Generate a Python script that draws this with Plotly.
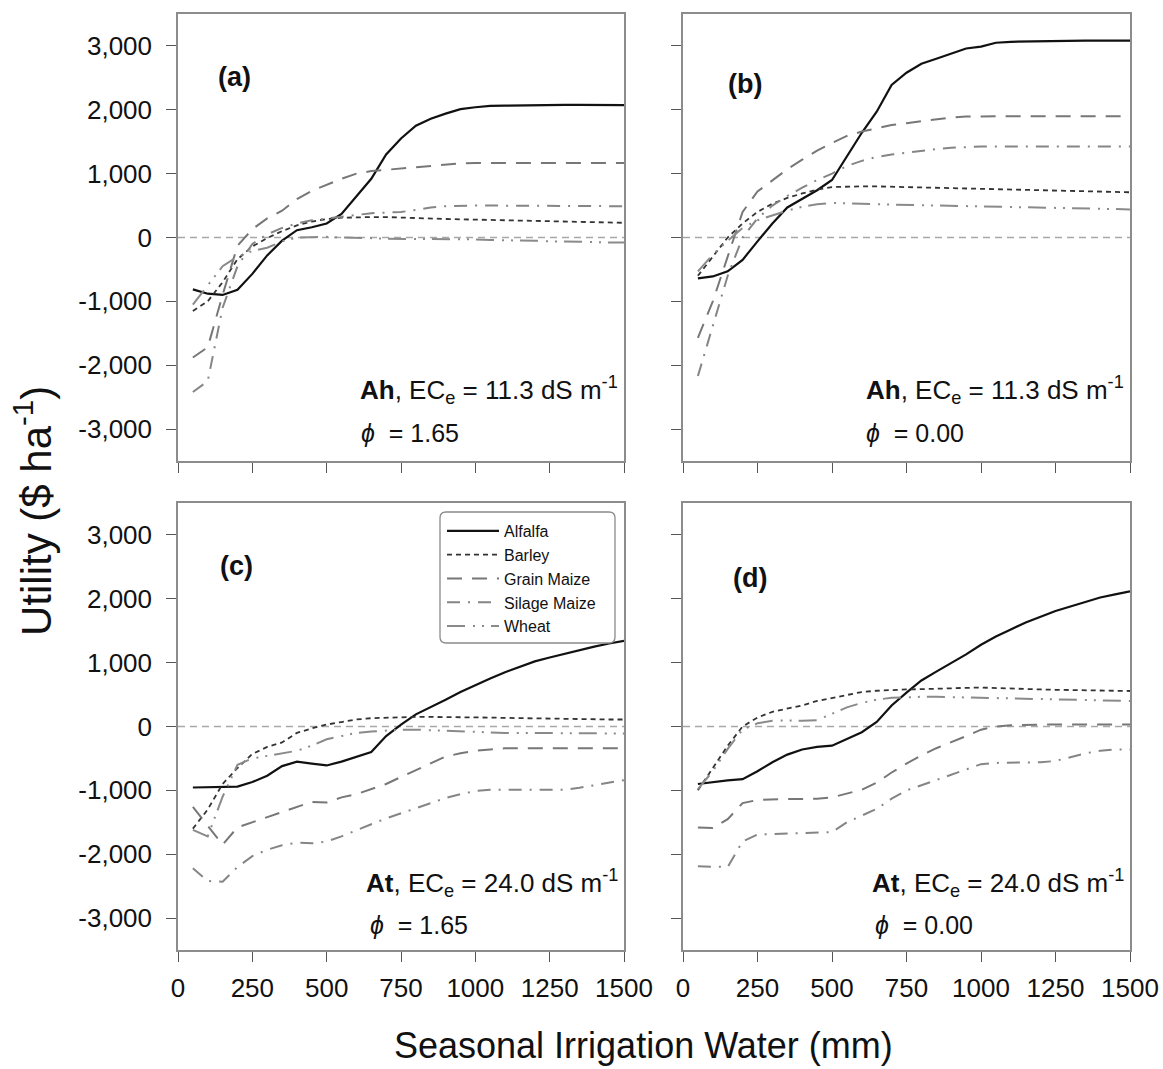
import plotly.graph_objects as go

# ---------------- data ----------------
water = [50, 100, 150, 200, 250, 300, 350, 400, 450, 500, 550, 600, 650, 700, 750,
         800, 850, 900, 950, 1000, 1050, 1100, 1150, 1200, 1250, 1300, 1350, 1400, 1450, 1500]

crops = ["Alfalfa", "Barley", "Grain Maize", "Silage Maize", "Wheat"]

# panel (a): Ah, phi = 1.65
alfalfa_a = [-812, -880, -900, -820, -570, -280, -50, 115, 160, 220, 370, 640, 920, 1300, 1550,
             1750, 1860, 1940, 2010, 2040, 2060, 2065, 2070, 2072, 2075, 2078, 2078, 2075, 2073, 2073]
barley_a = [-1150, -1000, -700, -340, -140, -10, 100, 190, 250, 290, 310, 320, 320, 320, 310,
            300, 295, 290, 285, 280, 275, 270, 265, 260, 255, 250, 245, 240, 235, 230]
grain_a = [-1880, -1720, -900, -130, 130, 300, 420, 600, 730, 830, 920, 1000, 1040, 1060, 1080,
           1100, 1120, 1140, 1160, 1165, 1165, 1165, 1165, 1165, 1165, 1165, 1165, 1165, 1165, 1165]
silage_a = [-2420, -2250, -1100, -450, -100, 50, 150, 220, 270, 300, 320, 350, 380, 390, 400,
            430, 470, 490, 500, 500, 500, 500, 500, 500, 495, 495, 490, 490, 490, 490]
wheat_a = [-1050, -750, -450, -300, -210, -160, -60, 0, 5, 10, 0, 0, -10, -20, -20,
           -20, -20, -20, -30, -30, -40, -40, -50, -50, -60, -60, -70, -70, -80, -80]

# panel (b): Ah, phi = 0.00
alfalfa_b = [-640, -610, -530, -350, -60, 220, 470, 610, 740, 900, 1280, 1640, 1970, 2390, 2580,
             2720, 2800, 2880, 2960, 2990, 3050, 3065, 3070, 3075, 3080, 3083, 3083, 3083, 3083, 3083]
barley_b = [-600, -300, 0, 220, 400, 530, 620, 690, 750, 790, 800, 800, 800, 795, 790,
            780, 775, 770, 765, 760, 750, 745, 740, 735, 730, 725, 720, 715, 710, 708]
grain_b = [-1570, -1000, -300, 400, 720, 900, 1070, 1220, 1360, 1480, 1590, 1660, 1710, 1760, 1790,
           1820, 1850, 1880, 1895, 1900, 1900, 1900, 1900, 1900, 1900, 1900, 1900, 1900, 1900, 1900]
silage_b = [-2170, -1400, -600, 0, 300, 500, 650, 780, 900, 1000, 1120, 1200, 1260, 1300, 1330,
            1360, 1385, 1405, 1420, 1425, 1425, 1425, 1425, 1425, 1425, 1425, 1425, 1425, 1425, 1425]
wheat_b = [-530, -270, -50, 150, 270, 350, 420, 480, 520, 540, 540, 530, 520, 515, 510,
           505, 500, 500, 495, 490, 485, 480, 475, 470, 465, 460, 455, 450, 445, 440]

# panel (c): At, phi = 1.65
alfalfa_c = [-955, -950, -945, -940, -870, -770, -620, -550, -580, -610, -550, -480, -400, -150, 30,
             190, 300, 420, 540, 650, 750, 850, 940, 1020, 1080, 1140, 1190, 1250, 1300, 1340]
barley_c = [-1600, -1300, -900, -650, -430, -320, -250, -100, -30, 30, 70, 110, 130, 140, 140,
            150, 150, 150, 150, 150, 140, 135, 130, 125, 120, 115, 110, 110, 110, 110]
grain_c = [-1260, -1550, -1850, -1580, -1500, -1420, -1340, -1260, -1180, -1190, -1110, -1060, -980, -900, -790,
           -680, -570, -470, -420, -380, -360, -340, -340, -340, -340, -340, -340, -340, -340, -340]
silage_c = [-2220, -2420, -2430, -2200, -2030, -1930, -1860, -1820, -1830, -1800, -1720, -1620, -1530, -1440, -1360,
            -1280, -1190, -1120, -1060, -1010, -990, -990, -990, -990, -990, -990, -960, -920, -880, -840]
wheat_c = [-1620, -1720, -1100, -600, -500, -460, -430, -380, -300, -200, -150, -100, -80, -60, -50,
           -50, -60, -60, -70, -80, -90, -100, -100, -100, -110, -110, -110, -110, -110, -110]

# panel (d): At, phi = 0.00
alfalfa_d = [-900, -870, -845, -825, -700, -560, -440, -360, -320, -300, -200, -90, 70, 330, 530,
             720, 860, 990, 1130, 1280, 1410, 1520, 1630, 1720, 1810, 1880, 1950, 2020, 2070, 2115]
barley_d = [-1000, -640, -300, 0, 140, 230, 280, 330, 400, 450, 500, 540, 560, 575, 580,
            585, 595, 600, 605, 610, 600, 590, 585, 580, 575, 570, 565, 560, 558, 556]
grain_d = [-1580, -1590, -1450, -1200, -1150, -1140, -1135, -1135, -1130, -1110, -1050, -990, -880, -720, -580,
           -450, -340, -250, -150, -50, 0, 20, 30, 30, 30, 30, 30, 30, 30, 30]
silage_d = [-2190, -2195, -2200, -1800, -1690, -1685, -1680, -1675, -1665, -1655, -1500, -1390, -1290, -1130, -1000,
            -920, -840, -760, -680, -590, -570, -570, -570, -560, -540, -480, -420, -380, -360, -360]
wheat_d = [-980, -700, -350, -50, 50, 90, 95, 90, 100, 200, 300, 370, 420, 450, 460,
           465, 465, 460, 455, 445, 435, 430, 425, 420, 415, 410, 405, 402, 400, 400]

panel_labels = ["(a)", "(b)", "(c)", "(d)"]
site_labels = ["Ah", "Ah", "At", "At"]
ece_values = ["11.3", "11.3", "24.0", "24.0"]
phi_values = ["1.65", "0.00", "1.65", "0.00"]

y_tickvals = [-3000, -2000, -1000, 0, 1000, 2000, 3000]
y_ticktext = ["-3,000", "-2,000", "-1,000", "0", "1,000", "2,000", "3,000"]
x_tickvals = [0, 250, 500, 750, 1000, 1250, 1500]
x_ticktext = ["0", "250", "500", "750", "1000", "1250", "1500"]

panels = [
    [alfalfa_a, barley_a, grain_a, silage_a, wheat_a],
    [alfalfa_b, barley_b, grain_b, silage_b, wheat_b],
    [alfalfa_c, barley_c, grain_c, silage_c, wheat_c],
    [alfalfa_d, barley_d, grain_d, silage_d, wheat_d],
]

# ---------------- styles ----------------
styles = [
    dict(color="#111111", width=2.2, dash="solid"),
    dict(color="#333333", width=1.8, dash="5px,4px"),
    dict(color="#777777", width=2.0, dash="15px,10px"),
    dict(color="#858585", width=2.0, dash="13px,8px,2px,8px"),
    dict(color="#8a8a8a", width=2.0, dash="18px,8px,2px,7px,2px,7px"),
]

FONT = "Liberation Sans, Arial, sans-serif"
W, H = 1163, 1069

xdom = [(178 / W, 624 / W), (683 / W, 1130 / W)]
ydom = [(1 - 461 / H, 1 - 14 / H), (1 - 950 / H, 1 - 503 / H)]

# rounded legend frame (paper coordinates)
lx0, lx1, ly0, ly1, rad = 440, 615, 512, 643, 6
def px(v):
    return v / W
def py(v):
    return 1 - v / H
legend_path = (
    f"M {px(lx0 + rad)},{py(ly0)} L {px(lx1 - rad)},{py(ly0)} "
    f"Q {px(lx1)},{py(ly0)} {px(lx1)},{py(ly0 + rad)} "
    f"L {px(lx1)},{py(ly1 - rad)} Q {px(lx1)},{py(ly1)} {px(lx1 - rad)},{py(ly1)} "
    f"L {px(lx0 + rad)},{py(ly1)} Q {px(lx0)},{py(ly1)} {px(lx0)},{py(ly1 - rad)} "
    f"L {px(lx0)},{py(ly0 + rad)} Q {px(lx0)},{py(ly0)} {px(lx0 + rad)},{py(ly0)} Z"
)

fig = go.Figure()
layout = dict(
    width=W, height=H, autosize=False,
    margin=dict(l=0, r=0, t=0, b=0, pad=0, autoexpand=False),
    paper_bgcolor="white", plot_bgcolor="white",
    font=dict(family=FONT, color="#111111"),
    showlegend=True,
    legend=dict(
        x=px(lx0 + 2), y=py(ly0 + 2), xanchor="left", yanchor="top",
        bgcolor="rgba(0,0,0,0)", borderwidth=0,
        font=dict(family=FONT, size=16, color="#111111"),
        tracegroupgap=0, itemwidth=52,
    ),
    shapes=[dict(type="path", xref="paper", yref="paper", path=legend_path,
                 fillcolor="white", line=dict(color="#8a8a8a", width=1.3), layer="above")],
    annotations=[],
)

for p in range(4):
    row, col = divmod(p, 2)
    idx = "" if p == 0 else str(p + 1)
    xa, ya = "x" + idx, "y" + idx
    layout["xaxis" + idx] = dict(
        domain=xdom[col], range=[0, 1500], anchor=ya, automargin=False,
        tickvals=x_tickvals, ticktext=x_ticktext, showticklabels=(row == 1),
        ticks="outside", ticklen=10, tickwidth=1.2, tickcolor="#555555",
        ticklabelstandoff=4,
        showline=True, linecolor="#8c8c8c", linewidth=1.5, mirror=True,
        showgrid=False, zeroline=False,
        tickfont=dict(family=FONT, size=26, color="#111111"),
    )
    layout["yaxis" + idx] = dict(
        domain=ydom[row], range=[-3500, 3500], anchor=xa, automargin=False,
        tickvals=y_tickvals, ticktext=y_ticktext, showticklabels=(col == 0),
        ticks="outside", ticklen=10, tickwidth=1.2, tickcolor="#555555",
        ticklabelstandoff=9,
        showline=True, linecolor="#8c8c8c", linewidth=1.5, mirror=True,
        showgrid=False, zeroline=False,
        tickfont=dict(family=FONT, size=26, color="#111111"),
    )
    # zero reference line
    fig.add_trace(go.Scatter(
        x=[0, 1500], y=[0, 0], xaxis=xa, yaxis=ya, mode="lines",
        line=dict(color="#a8a8a8", width=1.3, dash="7px,5px"),
        showlegend=False, hoverinfo="skip"))
    for k, series in enumerate(panels[p]):
        fig.add_trace(go.Scatter(
            x=water, y=series, xaxis=xa, yaxis=ya, mode="lines",
            name=crops[k], line=styles[k], legendgroup=crops[k],
            showlegend=(p == 0)))

    dom_x = xa + " domain"
    dom_y = ya + " domain"
    label_pos = [(0.126, 0.859), (0.139, 0.843), (0.132, 0.859), (0.15, 0.832)][p]
    layout["annotations"].append(dict(
        text="<b>%s</b>" % panel_labels[p], xref=dom_x, yref=dom_y,
        x=label_pos[0], y=label_pos[1], xanchor="center", yanchor="middle",
        showarrow=False, font=dict(family=FONT, size=27, color="#111111")))
    layout["annotations"].append(dict(
        text="<b>%s</b>, EC<sub>e</sub> = %s dS m<sup>-1</sup>" % (site_labels[p], ece_values[p]),
        xref=dom_x, yref=dom_y, x=0.99, y=0.158 if row == 0 else 0.15,
        xanchor="right", yanchor="middle", showarrow=False,
        font=dict(family=FONT, size=26, color="#111111")))
    layout["annotations"].append(dict(
        text="<i>\u03d5</i>  = %s" % phi_values[p],
        xref=dom_x, yref=dom_y, x=0.405 if row == 0 else 0.425, y=0.062 if row == 0 else 0.055,
        xanchor="left", yanchor="middle", showarrow=False,
        font=dict(family=FONT, size=25, color="#111111")))

layout["annotations"].append(dict(
    text="Utility ($ ha<sup>-1</sup>)", xref="paper", yref="paper",
    x=33 / W, y=1 - 511 / H, textangle=-90, showarrow=False,
    xanchor="center", yanchor="middle",
    font=dict(family=FONT, size=42, color="#111111")))
layout["annotations"].append(dict(
    text="Seasonal Irrigation Water (mm)", xref="paper", yref="paper",
    x=643 / W, y=1 - 1045 / H, showarrow=False,
    xanchor="center", yanchor="middle",
    font=dict(family=FONT, size=36, color="#111111")))

fig.update_layout(**layout)
fig.write_html("out.html")
